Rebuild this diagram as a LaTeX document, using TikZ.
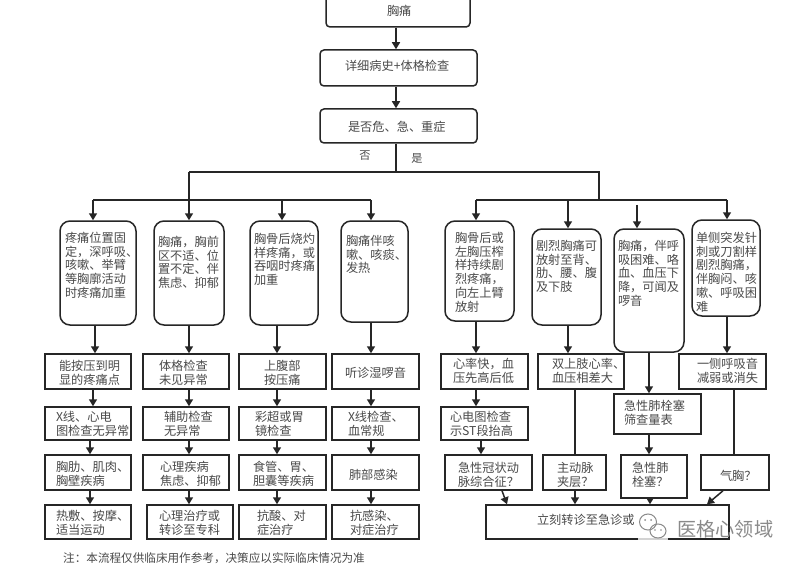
\documentclass[tikz,border=0pt]{standalone}
\usepackage{fontspec}
\setmainfont{Noto Sans CJK SC}
\usetikzlibrary{arrows.meta,calc}
\definecolor{txt}{HTML}{4A4A4A}
\definecolor{wm}{HTML}{8A8A8A}
\newcommand{\bx}[9]{%
  \node[#6,inner sep=0pt,at={({(#2+#4)/2},{(#3+#5)/2})}] (#1) {\parbox[c][\dimexpr#5pt-#3pt\relax][t]{\dimexpr#4pt-#2pt\relax}{%
    \fontsize{12.2}{13.7}\selectfont\lineskiplimit=-100pt\color{txt}\leftskip=\dimexpr#7pt-#2pt\relax\rightskip=0pt plus 1fil
    \vspace*{\dimexpr#8pt-#3pt-7.5pt\relax}\rule{0pt}{12pt}#9}};}
\newcommand{\conn}[4][flow]{%
  \path (#4,0) coordinate (tmpx);
  \draw[#1] (#2.south -| tmpx) -- (#3.north -| tmpx);}
\tikzset{
  flow/.style={draw=black!85,line width=1.5pt,-{Triangle[width=8pt,length=7pt]}},
  plainline/.style={draw=black!85,line width=1.5pt},
  softbox/.style={draw=black!85,line width=1.5pt,fill=white,rounded corners=4pt},
  roundbox/.style={draw=black!85,line width=1.5pt,fill=white,rounded corners=10pt},
  sqbox/.style={draw=black!85,line width=1.5pt,fill=white},
  caption/.style={inner sep=0pt,text=txt,font=\fontsize{11.2}{13}\selectfont}
}
\begin{document}
\begin{tikzpicture}[x=1pt,y=-1pt]
\fill[white] (0,0) rectangle (800,564);
\clip (0,0) rectangle (800,564);
% top
\bx{top}{326}{-10}{470}{27}{softbox}{387}{11}{胸痛}
\bx{hist}{320}{50}{477}{86}{softbox}{345}{66}{详细病史+体格检查}
\bx{crit}{320}{109}{477}{143}{softbox}{348}{127}{是否危、急、重症}
\node[caption] (no) at (365,156) {否};
\node[caption] (yes) at (417,158) {是};
% first row
\bx{a1}{60}{221}{136}{325}{roundbox}{65}{238}{疼痛位置固\\定，深呼吸、\\咳嗽、举臂\\等胸廓活动\\时疼痛加重}
\bx{a2}{154}{221}{224}{325}{roundbox}{158}{242}{胸痛，胸前\\区不适、位\\置不定、伴\\焦虑、抑郁}
\bx{a3}{250}{221}{318}{325}{roundbox}{254}{239}{胸骨后烧灼\\样疼痛，或\\吞咽时疼痛\\加重}
\bx{a4}{341}{221}{408}{322}{roundbox}{346}{241}{胸痛伴咳\\嗽、咳痰、\\发热}
\bx{a5}{445}{221}{514}{321}{roundbox}{455}{238}{胸骨后或\\左胸压榨\\样持续剧\\烈疼痛，\\向左上臂\\放射}
\bx{a6}{532}{229}{601}{325}{roundbox}{536}{246}{剧烈胸痛可\\放射至背、\\肋、腰、腹\\及下肢}
\bx{a7}{614}{229}{684}{352}{roundbox}{618}{246}{胸痛，伴呼\\吸困难、咯\\血、血压下\\降，可闻及\\啰音}
\bx{a8}{692}{220}{760}{316}{roundbox}{696}{238}{单侧突发针\\刺或刀割样\\剧烈胸痛，\\伴胸闷、咳\\嗽、呼吸困\\难}
% second row
\bx{b1}{45}{354}{131}{389}{sqbox}{59}{366}{能按压到明\\显的疼痛点}
\bx{b2}{143}{354}{229}{389}{sqbox}{159}{366}{体格检查\\未见异常}
\bx{b3}{239}{354}{326}{389}{sqbox}{264}{366}{上腹部\\按压痛}
\bx{b4}{332}{354}{419}{389}{sqbox}{345}{373}{听诊湿啰音}
\bx{b5}{441}{354}{528}{389}{sqbox}{453}{364}{心率快，血\\压先高后低}
\bx{b6}{538}{354}{624}{389}{sqbox}{552}{364}{双上肢心率、\\血压相差大}
\bx{b7}{614}{394}{701}{434}{sqbox}{624}{406}{急性肺栓塞\\筛查量表}
\bx{b8}{679}{354}{766}{389}{sqbox}{697}{364}{一侧呼吸音\\减弱或消失}
% third row
\bx{c1}{45}{407}{131}{440}{sqbox}{56}{417}{X线、心电\\图检查无异常}
\bx{c2}{143}{407}{229}{440}{sqbox}{164}{417}{辅助检查\\无异常}
\bx{c3}{239}{407}{326}{440}{sqbox}{255}{417}{彩超或胃\\镜检查}
\bx{c4}{332}{407}{419}{440}{sqbox}{348}{417}{X线检查、\\血常规}
\bx{c5}{441}{407}{528}{440}{sqbox}{450}{417}{心电图检查\\示ST段抬高}
% fourth row
\bx{d1}{45}{455}{131}{490}{sqbox}{56}{467}{胸肋、肌肉、\\胸壁疾病}
\bx{d2}{143}{455}{229}{490}{sqbox}{160}{467}{心理疾病\\焦虑、抑郁}
\bx{d3}{239}{455}{326}{490}{sqbox}{253}{467}{食管、胃、\\胆囊等疾病}
\bx{d4}{332}{455}{419}{490}{sqbox}{349}{475}{肺部感染}
\bx{d5}{445}{455}{532}{490}{sqbox}{458}{468}{急性冠状动\\脉综合征？}
\bx{d6}{543}{455}{606}{490}{sqbox}{557}{468}{主动脉\\夹层？}
\bx{d7}{621}{455}{687}{498}{sqbox}{632}{468}{急性肺\\栓塞？}
\bx{d8}{701}{455}{769}{490}{sqbox}{720}{476}{气胸？}
% fifth row
\bx{e1}{45}{505}{131}{539}{sqbox}{56}{516}{热敷、按摩、\\适当运动}
\bx{e2}{147}{505}{233}{539}{sqbox}{159}{516}{心理治疗或\\转诊至专科}
\bx{e3}{239}{505}{326}{539}{sqbox}{257}{516}{抗酸、对\\症治疗}
\bx{e4}{332}{505}{419}{539}{sqbox}{350}{516}{抗感染、\\对症治疗}
\bx{f}{486}{505}{729}{539}{sqbox}{537}{520}{立刻转诊至急诊或}
% bus
\coordinate (split) at (396,172);
\coordinate (busl) at (189,172);
\coordinate (busr) at (599,172);
\coordinate (ljoin) at (189,200);
\coordinate (rjoin) at (599,201);
\coordinate (l1) at (93,200);
\coordinate (l4) at (371,200);
\coordinate (r1) at (476,200);
\coordinate (r4) at (727,200);
\coordinate (gap) at (637,205);
\draw[flow] (top.south -| split) -- (hist.north -| split);
\draw[flow] (hist.south -| split) -- (crit.north -| split);
\draw[plainline] (crit.south -| split) -- (split);
\draw[plainline] (busl) -- (busr) -- (rjoin);
\draw[plainline] (busl) -- (ljoin);
\draw[plainline] (l1) -- (l4);
\draw[plainline] (r1) -- (r4);
\draw[flow] (l1) -- (l1 |- a1.north);
\draw[flow] (ljoin) -- (ljoin |- a2.north);
\path (282,200) coordinate (l3);
\draw[flow] (l3) -- (l3 |- a3.north);
\draw[flow] (l4) -- (l4 |- a4.north);
\draw[flow] (r1) -- (r1 |- a5.north);
\path (568,200) coordinate (r2);
\draw[flow] (r2) -- (r2 |- a6.north);
\draw[flow] (gap) -- (gap |- a7.north);
\draw[flow] (r4) -- (r4 |- a8.north);
% columns
\conn{a1}{b1}{95}\conn{b1}{c1}{93}\conn{c1}{d1}{90}\conn{d1}{e1}{90}
\conn{a2}{b2}{189}\conn{b2}{c2}{189}\conn{c2}{d2}{189}\conn{d2}{e2}{189}
\conn{a3}{b3}{277}\conn{b3}{c3}{277}\conn{c3}{d3}{277}\conn{d3}{e3}{277}
\conn{a4}{b4}{371}\conn{b4}{c4}{371}\conn{c4}{d4}{371}\conn{d4}{e4}{371}
\conn{a5}{b5}{476}\conn{b5}{c5}{476}\conn{c5}{d5}{481}
\conn{a6}{b6}{568}\conn[plainline]{b6}{d6}{575}\conn{d6}{f}{575}
\conn{a7}{b7}{649}\conn{b7}{d7}{649}\conn{d7}{f}{650}
\conn{a8}{b8}{727}\conn[plainline]{b8}{d8}{734}
\path (502,490) coordinate (d5out) (507,505) coordinate (f5in) (723,490) coordinate (d8out) (707,505) coordinate (f8in);
\draw[flow] (d5.south -| d5out) -- (f.north -| f5in);
\draw[flow] (d8.south -| d8out) -- (f.north -| f8in);
% note
\node[caption,anchor=west,font=\fontsize{11.6}{13}\selectfont] (note) at (63,558) {注：本流程仅供临床用作参考，决策应以实际临床情况为准};
% watermark
\begin{scope}[draw=wm,line width=1pt]
\fill[white,opacity=.8] (638,510) rectangle (668,541);
\draw (648,522) ellipse [x radius=8.5,y radius=8];
\draw (658,531) ellipse [x radius=8,y radius=7];
\fill[wm] (645,520) circle (1) (651,520) circle (1) (655,530) circle (.8) (661,530) circle (.8);
\end{scope}
\node[inner sep=0pt,anchor=west,text=wm,font=\fontsize{19.2}{22}\selectfont] (mark) at (677,529) {医格心领域};
\end{tikzpicture}
\end{document}
